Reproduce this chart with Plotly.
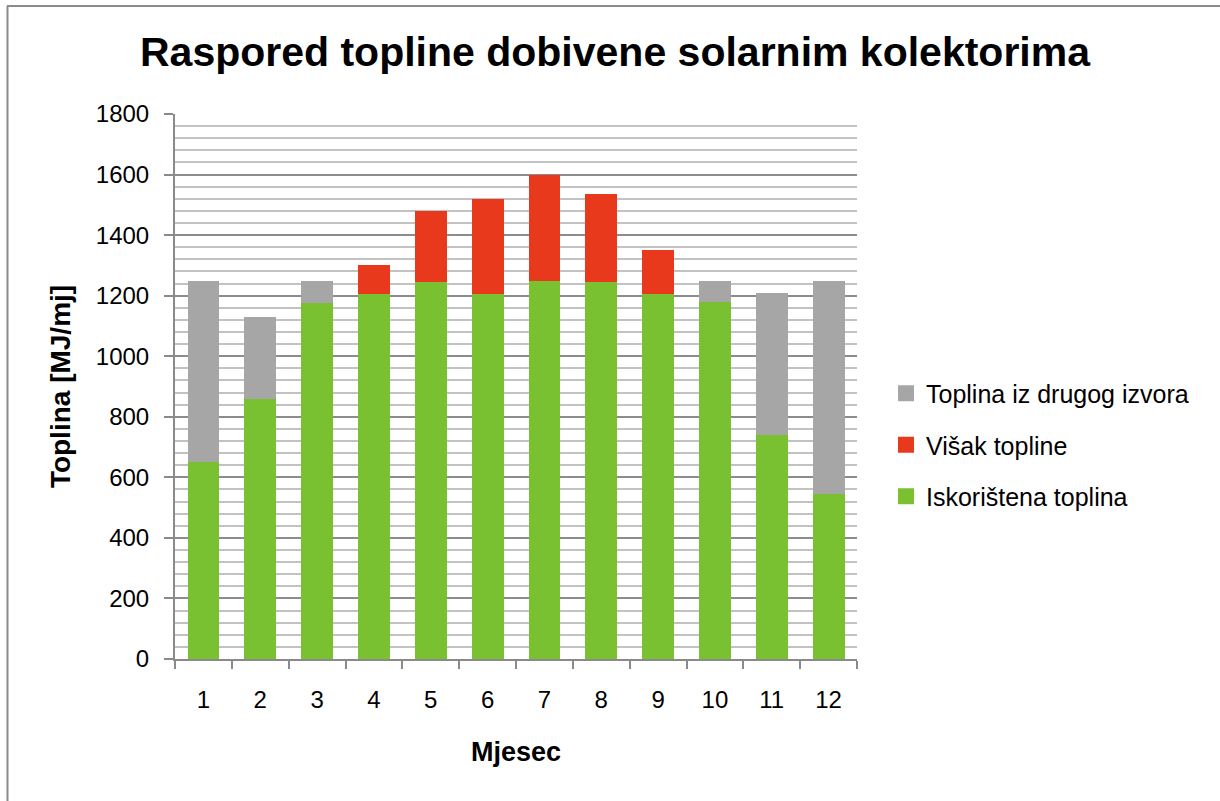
import plotly.graph_objects as go

months = ["1", "2", "3", "4", "5", "6", "7", "8", "9", "10", "11", "12"]
iskoristena = [650, 860, 1175, 1205, 1245, 1205, 1250, 1245, 1205, 1180, 740, 545]
visak = [0, 0, 0, 95, 235, 315, 350, 290, 145, 0, 0, 0]
drugi_izvor = [600, 270, 75, 0, 0, 0, 0, 0, 0, 70, 470, 705]
y_ticks = [0, 200, 400, 600, 800, 1000, 1200, 1400, 1600, 1800]

names = ["Iskorištena toplina", "Višak topline", "Toplina iz drugog izvora"]
colors = ["#79C130", "#E8391D", "#A6A6A6"]
series = [iskoristena, visak, drugi_izvor]

FONT = "Liberation Sans, Arial, sans-serif"

fig = go.Figure()
for nm, col, vals in zip(names, colors, series):
    fig.add_trace(go.Bar(x=months, y=vals, name=nm, marker=dict(color=col, line=dict(width=0)),
                         showlegend=False))
# legend entries (gray on top, as in the reference)
for i in [2, 1, 0]:
    fig.add_trace(go.Scatter(x=[None], y=[None], mode="markers", name=names[i], legendgroup=f"l{i}",
                             marker=dict(symbol="square", size=16, color=colors[i]), showlegend=True))

W, H = 1220, 801
L, R, T, B = 175, 857, 114, 659
pw, ph = R - L, B - T

def px_x(p):
    return (p - L) / pw

def px_y(p):
    return (B - p) / ph

fig.update_layout(
    width=W, height=H,
    barmode="stack", bargap=0.44,
    margin=dict(l=L, r=W - R, t=T, b=H - B),
    paper_bgcolor="white", plot_bgcolor="white",
    font=dict(family=FONT, size=24, color="#000000"),
    title=dict(text="<b>Raspored topline dobivene solarnim kolektorima</b>",
               x=615 / W, xanchor="center", y=1 - 52 / H, yanchor="middle",
               font=dict(family=FONT, size=41, color="#000000")),
    legend=dict(x=px_x(886), xanchor="left", y=px_y(445), yanchor="middle",
                traceorder="grouped", tracegroupgap=16,
                font=dict(family=FONT, size=25, color="#000000"), bgcolor="rgba(0,0,0,0)"),
    xaxis=dict(type="category", tickson="boundaries", ticks="outside", ticklen=8, tickwidth=2,
               tickcolor="#8a8a8a", showline=True, linecolor="#8a8a8a", linewidth=2,
               showgrid=False, ticklabelstandoff=18,
               tickfont=dict(family=FONT, size=24),
               title=dict(text="<b>Mjesec</b>", font=dict(family=FONT, size=27), standoff=30)),
    yaxis=dict(range=[0, 1800], tickvals=y_ticks, ticks="outside", ticklen=9, tickwidth=2,
               tickcolor="#8a8a8a", showline=True, linecolor="#8a8a8a", linewidth=2,
               gridcolor="#8c8c8c", gridwidth=2, ticklabelstandoff=10,
               tickfont=dict(family=FONT, size=24),
               minor=dict(dtick=40, showgrid=True, gridcolor="#c2c2c2", gridwidth=2),
               zeroline=False,
               title=dict(text="<b>Toplina [MJ/mj]</b>", font=dict(family=FONT, size=28), standoff=17)),
    shapes=[
        dict(type="line", xref="paper", yref="paper", x0=px_x(7), x1=px_x(W), y0=px_y(6), y1=px_y(6),
             line=dict(color="#8a8a8a", width=2), layer="above"),
        dict(type="line", xref="paper", yref="paper", x0=px_x(7.5), x1=px_x(7.5), y0=px_y(6), y1=px_y(H),
             line=dict(color="#8a8a8a", width=2), layer="above"),
    ],
)

fig.write_html("out.html", config={"displayModeBar": False},
               post_script="document.body.style.margin='0';document.body.style.overflow='hidden';")
